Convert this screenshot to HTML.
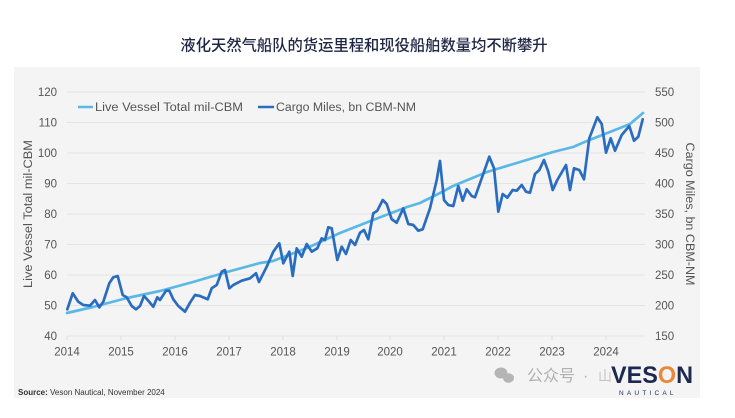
<!DOCTYPE html>
<html>
<head>
<meta charset="utf-8">
<style>
html,body{margin:0;padding:0;background:#fff;}
body{width:735px;height:418px;overflow:hidden;}
svg{display:block;}
</style>
</head>
<body>
<svg width="735" height="418" viewBox="0 0 735 418" xmlns="http://www.w3.org/2000/svg" font-family="'Liberation Sans','Noto Sans CJK SC',sans-serif">
  <rect x="0" y="0" width="735" height="418" fill="#ffffff"/>
  <!-- title -->
  <text x="364" y="50.5" text-anchor="middle" font-size="15.3" fill="#1e2545" font-family="'Liberation Sans','Noto Sans CJK SC',sans-serif" font-weight="500">液化天然气船队的货运里程和现役船舶数量均不断攀升</text>
  <!-- panel -->
  <rect x="14" y="67" width="686" height="331" fill="#f4f4f4"/>
  <!-- gridlines -->
  <g stroke="#e4e4e4" stroke-width="1">
    <line x1="67" y1="92" x2="645" y2="92"/>
    <line x1="67" y1="122.5" x2="645" y2="122.5"/>
    <line x1="67" y1="153" x2="645" y2="153"/>
    <line x1="67" y1="183.5" x2="645" y2="183.5"/>
    <line x1="67" y1="214" x2="645" y2="214"/>
    <line x1="67" y1="244.5" x2="645" y2="244.5"/>
    <line x1="67" y1="275" x2="645" y2="275"/>
    <line x1="67" y1="305.5" x2="645" y2="305.5"/>
    <line x1="67" y1="336" x2="645" y2="336"/>
  </g>
  <g stroke="#dcdcdc" stroke-width="1">
    <line x1="67" y1="336" x2="67" y2="340"/>
    <line x1="121" y1="336" x2="121" y2="340"/>
    <line x1="175" y1="336" x2="175" y2="340"/>
    <line x1="229" y1="336" x2="229" y2="340"/>
    <line x1="283" y1="336" x2="283" y2="340"/>
    <line x1="337" y1="336" x2="337" y2="340"/>
    <line x1="390" y1="336" x2="390" y2="340"/>
    <line x1="444" y1="336" x2="444" y2="340"/>
    <line x1="498" y1="336" x2="498" y2="340"/>
    <line x1="552" y1="336" x2="552" y2="340"/>
    <line x1="606" y1="336" x2="606" y2="340"/>
  </g>
  <!-- left tick labels -->
  <g font-size="11.5" fill="#555" text-anchor="end">
    <text x="57" y="96">120</text>
    <text x="57" y="126.5">110</text>
    <text x="57" y="157">100</text>
    <text x="57" y="187.5">90</text>
    <text x="57" y="218">80</text>
    <text x="57" y="248.5">70</text>
    <text x="57" y="279">60</text>
    <text x="57" y="309.5">50</text>
    <text x="57" y="340">40</text>
  </g>
  <!-- right tick labels -->
  <g font-size="11.5" fill="#555" text-anchor="start">
    <text x="655" y="96">550</text>
    <text x="655" y="126.5">500</text>
    <text x="655" y="157">450</text>
    <text x="655" y="187.5">400</text>
    <text x="655" y="218">350</text>
    <text x="655" y="248.5">300</text>
    <text x="655" y="279">250</text>
    <text x="655" y="309.5">200</text>
    <text x="655" y="340">150</text>
  </g>
  <!-- x labels -->
  <g font-size="11.5" fill="#555" text-anchor="middle">
    <text x="67" y="355.5">2014</text>
    <text x="121" y="355.5">2015</text>
    <text x="175" y="355.5">2016</text>
    <text x="229" y="355.5">2017</text>
    <text x="283" y="355.5">2018</text>
    <text x="337" y="355.5">2019</text>
    <text x="390" y="355.5">2020</text>
    <text x="444" y="355.5">2021</text>
    <text x="498" y="355.5">2022</text>
    <text x="552" y="355.5">2023</text>
    <text x="606" y="355.5">2024</text>
  </g>
  <!-- axis titles -->
  <text transform="translate(32,214) rotate(-90)" text-anchor="middle" font-size="11.5" fill="#555" textLength="148" lengthAdjust="spacingAndGlyphs">Live Vessel Total mil-CBM</text>
  <text transform="translate(686,214) rotate(90)" text-anchor="middle" font-size="11.5" fill="#555" textLength="143" lengthAdjust="spacingAndGlyphs">Cargo Miles, bn CBM-NM</text>
  <!-- legend -->
  <line x1="78" y1="107" x2="93" y2="107" stroke="#5bb8e6" stroke-width="2.5"/>
  <text x="95" y="111" font-size="11.5" fill="#555" textLength="148" lengthAdjust="spacingAndGlyphs">Live Vessel Total  mil-CBM</text>
  <line x1="258" y1="107" x2="274" y2="107" stroke="#2a6cc0" stroke-width="2.5"/>
  <text x="276" y="111" font-size="11.5" fill="#555" textLength="140" lengthAdjust="spacingAndGlyphs">Cargo Miles, bn CBM-NM</text>
  <!-- series: live vessel -->
  <polyline fill="none" stroke="#5bb8e6" stroke-width="2.7" stroke-linejoin="round" stroke-linecap="round"
    points="67,313 93,307 127,298 160,291 193,282 227,272 260,263 273,261 307,248 340,233 373,220 407,207 420,203 440,193 453,186 487,172 520,162 553,152 573,147 587,141 620,128 630,124 643,113"/>
  <!-- series: cargo miles -->
  <polyline fill="none" stroke="#2a6cc0" stroke-width="2.7" stroke-linejoin="round" stroke-linecap="round"
    points="67.3,309.3 72.7,293.3 78.3,301.7 83.3,305 90,305.7 95,300 99.3,307.3 103.3,301.7 109.3,283.3 113.3,277.3 117.7,276 122.7,295 126.7,297.3 131.7,306 136,309.3 140,306 144,296 148.3,300.7 153.3,306.7 157.3,297.3 160,300 166,290.7 169.3,290.7 173.3,299.3 178.3,306 185,311.7 190,302.7 195,295 200,296 207.7,299.3 211.7,288.3 216.7,285 221.7,271.7 225,270 229.3,288.3 233.3,285 241.7,280.7 250,278.3 256,273.3 259,282 266.7,266.7 273.3,251.7 279.3,243.3 283.3,263.3 289.3,251.7 292.7,276 296.7,248.3 301.7,256.7 306.7,244 311.7,251.7 317.3,248.3 321.7,238.3 325,240 328.3,227.3 331.7,228.3 337.3,260 341.7,246.7 346,254 350.7,240 355,245 360,232.7 364,230 368.3,239.3 373.3,213.3 377.3,210.7 382.7,200 386.7,204 391.7,219.3 396.7,222.7 403.3,208.3 408.3,224 413.3,225 418.3,230.7 422.7,229.3 430,208.3 436.7,180 440,161 444,200 448.3,205 453.3,206 458.3,186 462.7,200.7 466.7,189.3 471.7,196 475,197.3 481.7,178.3 489.3,156.7 494,168.3 498.3,211.7 502.7,194 507.3,197.7 512.7,190 516.7,190.7 521.7,185 526,191.7 530,192.7 535,174 539.3,170 544,160 548.3,171.7 552.7,190 557.3,180 566,165 570,190 574,168.3 579.3,170 584,179.3 589.3,138.3 597.3,117.3 601.7,124 606,152.7 610.7,138.3 615,150.7 621.7,135 629.3,126 634,140.7 638.3,136.7 642.7,119.3"/>
  <!-- watermark -->
  <g fill="#b5b5b5">
    <ellipse cx="501" cy="373" rx="6.5" ry="5.5"/>
    <ellipse cx="508.5" cy="378" rx="5.5" ry="4.8"/>
  </g>
  <text x="527" y="381" font-size="16" fill="#b0b0b0" font-family="'Liberation Sans','Noto Sans CJK SC',sans-serif">公众号</text>
  <text x="583" y="381" font-size="16" fill="#b0b0b0">·</text>
  <text x="598" y="381" font-size="14" fill="#c4c4c4" font-family="'Liberation Sans','Noto Sans CJK SC',sans-serif">山</text>
  <!-- logo -->
  <text x="611" y="383" font-size="24" font-weight="bold" fill="#1b2a4e" textLength="82" lengthAdjust="spacingAndGlyphs">VES<tspan fill="#e8883a">O</tspan>N</text>
  <text x="619" y="395" font-size="6.5" fill="#1b2a4e" letter-spacing="3.2">NAUTICAL</text>
  <!-- source -->
  <text x="18" y="395" font-size="8" fill="#333"><tspan font-weight="bold">Source:</tspan> Veson Nautical, November 2024</text>
</svg>
</body>
</html>
